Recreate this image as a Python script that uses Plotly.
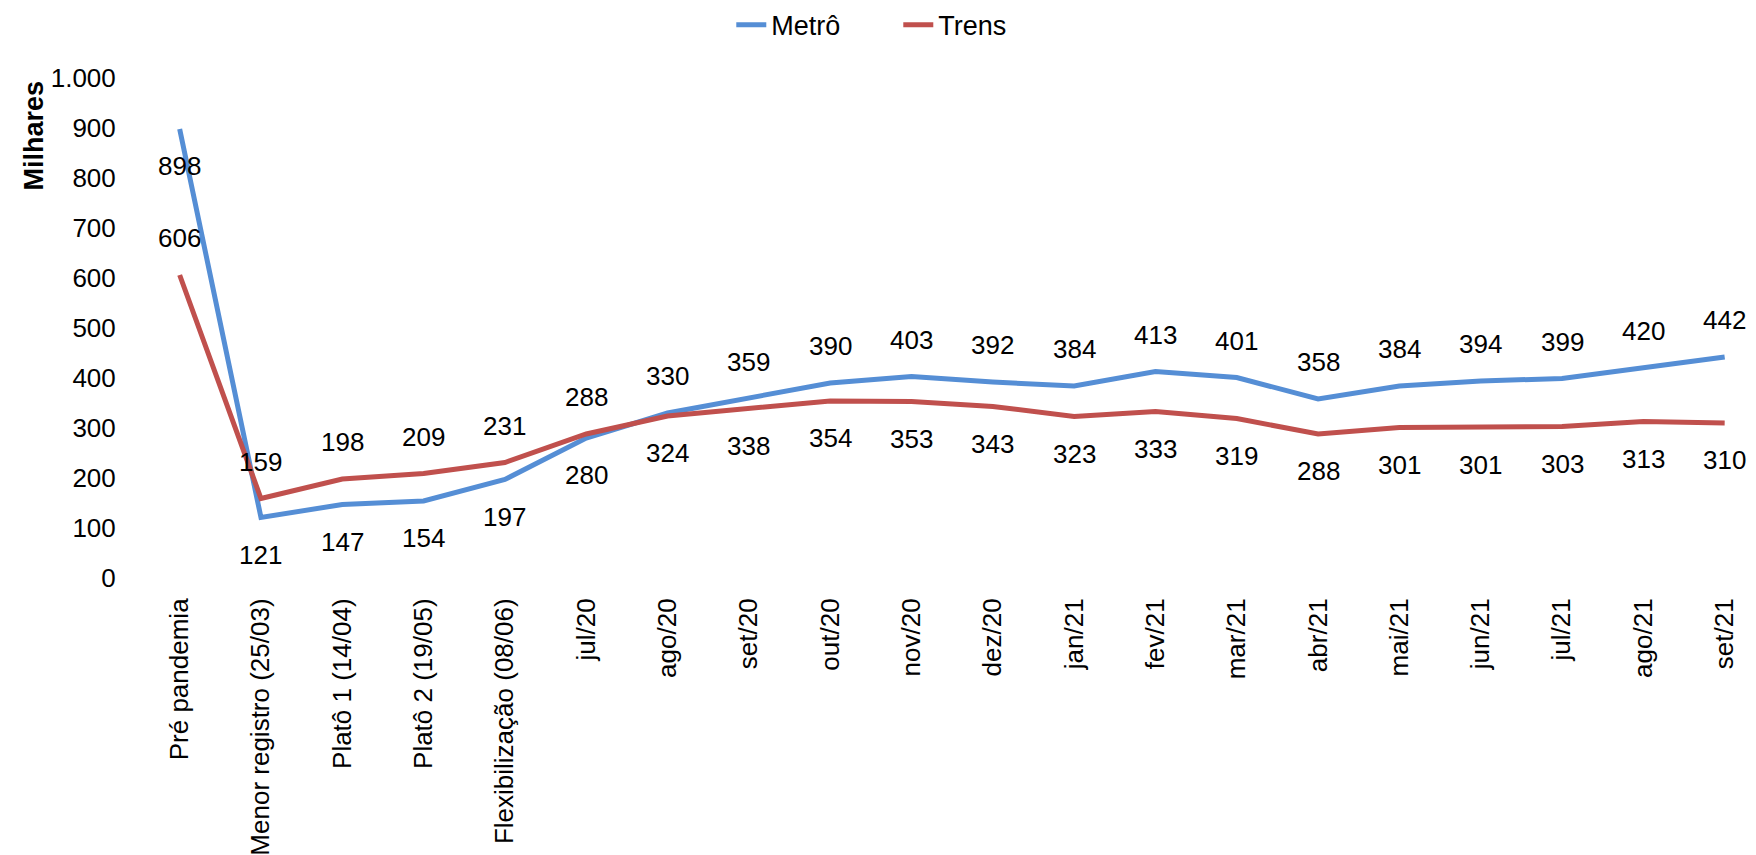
import plotly.graph_objects as go

categories = ["Pré pandemia", "Menor registro (25/03)", "Platô 1 (14/04)", "Platô 2 (19/05)",
              "Flexibilização (08/06)", "jul/20", "ago/20", "set/20", "out/20", "nov/20", "dez/20",
              "jan/21", "fev/21", "mar/21", "abr/21", "mai/21", "jun/21", "jul/21", "ago/21", "set/21"]
metro = [898, 121, 147, 154, 197, 280, 330, 359, 390, 403, 392, 384, 413, 401, 358, 384, 394, 399, 420, 442]
trens = [606, 159, 198, 209, 231, 288, 324, 338, 354, 353, 343, 323, 333, 319, 288, 301, 301, 303, 313, 310]
ytick_vals = [0, 100, 200, 300, 400, 500, 600, 700, 800, 900, 1000]
ytick_text = ["0", "100", "200", "300", "400", "500", "600", "700", "800", "900", "1.000"]

# label side per point: 1 = above, -1 = below
metro_side = [-1, -1, -1, -1, -1, -1] + [1] * 14
trens_side = [1, 1, 1, 1, 1, 1] + [-1] * 14

FONT = "Liberation Sans, Arial, sans-serif"
BLUE = "#558ED5"
RED = "#C0504D"
FS = 26

fig = go.Figure()
fig.add_trace(go.Scatter(x=categories, y=metro, mode="lines", name="Metrô",
                         line=dict(color=BLUE, width=5), cliponaxis=False))
fig.add_trace(go.Scatter(x=categories, y=trens, mode="lines", name="Trens",
                         line=dict(color=RED, width=5), cliponaxis=False))

annotations = []
for series, sides in ((metro, metro_side), (trens, trens_side)):
    for c, v, s in zip(categories, series, sides):
        annotations.append(dict(x=c, y=v, xref="x", yref="y", text=str(v), showarrow=False,
                                yshift=37 * s, font=dict(size=FS, color="#000000", family=FONT)))
annotations.append(dict(text="<b>Milhares</b>", xref="paper", yref="paper", x=0, y=0.885,
                        xshift=-106, textangle=-90, showarrow=False, xanchor="center",
                        yanchor="middle", font=dict(size=27, color="#000000", family=FONT)))

fig.update_layout(
    width=1756, height=855,
    paper_bgcolor="white", plot_bgcolor="white",
    margin=dict(l=131, r=19, t=70, b=285, autoexpand=False),
    font=dict(family=FONT, size=FS, color="#000000"),
    showlegend=True,
    legend=dict(orientation="h", xref="container", x=0.507, xanchor="center",
                yref="container", y=0.98, yanchor="middle",
                entrywidth=122, entrywidthmode="pixels",
                font=dict(size=27), tracegroupgap=0),
    annotations=annotations,
)
fig.update_xaxes(type="category", range=[-0.5, 19.25], showgrid=False, showline=False,
                 zeroline=False, tickangle=-90, ticks="outside", ticklen=9, tickcolor="rgba(0,0,0,0)",
                 tickfont=dict(size=FS, family=FONT))
fig.update_yaxes(range=[0, 1000], tickvals=ytick_vals, ticktext=ytick_text, showgrid=False,
                 showline=False, zeroline=False, ticks="outside", ticklen=17,
                 tickcolor="rgba(0,0,0,0)", tickfont=dict(size=FS, family=FONT))

fig.write_html("out.html")
